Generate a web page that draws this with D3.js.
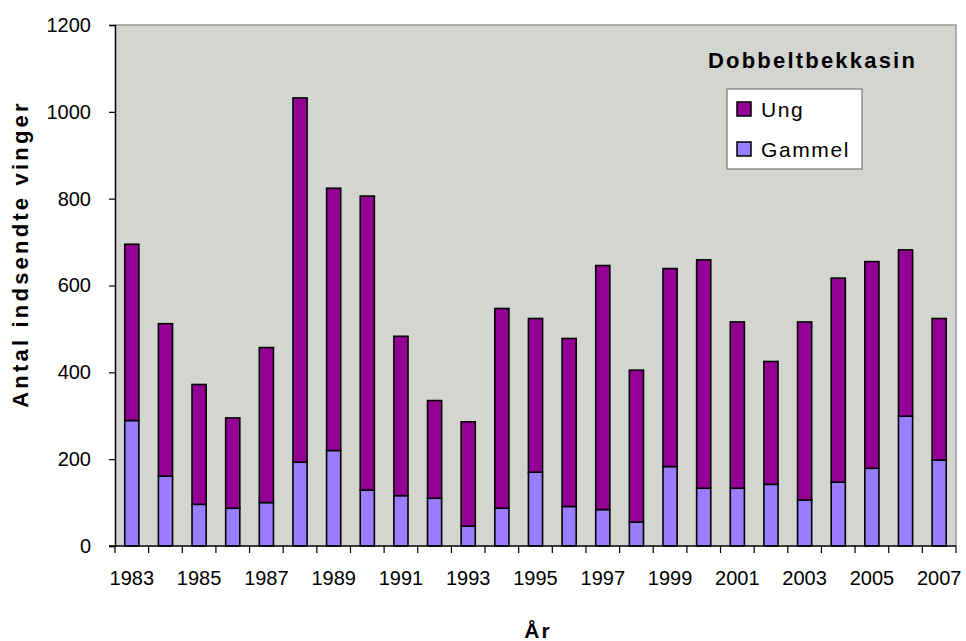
<!DOCTYPE html>
<html>
<head>
<meta charset="utf-8">
<script src="https://cdn.jsdelivr.net/npm/d3@7"></script>
<style>
  html, body { margin: 0; padding: 0; background: #fff; }
  svg { display: block; font-family: "Liberation Sans", Arial, sans-serif; }
</style>
</head>
<body>
<div id="chart"></div>
<script>
const years = d3.range(1983, 2008).map(String);
const gammel = [289, 161, 96, 87, 100, 193, 220, 129, 116, 110, 46, 87, 170, 91, 84, 55, 183, 133, 133, 142, 106, 147, 179, 299, 198];
const ung = [406, 351, 276, 208, 357, 839, 604, 677, 367, 225, 240, 460, 354, 387, 562, 350, 456, 526, 383, 283, 410, 470, 476, 383, 326];
const yTicks = [0, 200, 400, 600, 800, 1000, 1200];
const seriesNames = ["Gammel", "Ung"];

const W = 966, H = 641;
const margin = { top: 25, right: 10, bottom: 95, left: 115 };

const colors = { Ung: "#940094", Gammel: "#9B7EFF" };

const rows = years.map((y, i) => ({ year: y, Gammel: gammel[i], Ung: ung[i] }));
const stacked = d3.stack().keys(seriesNames)(rows);

const svg = d3.select("#chart").append("svg")
  .attr("width", W)
  .attr("height", H);

const x = d3.scaleBand()
  .domain(years)
  .range([margin.left, W - margin.right])
  .paddingInner(0.58)
  .paddingOuter(0.29);

const y = d3.scaleLinear()
  .domain([0, 1200])
  .range([H - margin.bottom, margin.top]);

// plot area background
svg.append("rect")
  .attr("x", margin.left)
  .attr("y", margin.top)
  .attr("width", W - margin.right - margin.left)
  .attr("height", H - margin.bottom - margin.top)
  .attr("fill", "#D3D5D0");

// top and right frame
svg.append("path")
  .attr("d", `M${margin.left},${margin.top}H${W - margin.right}V${H - margin.bottom}`)
  .attr("fill", "none")
  .attr("stroke", "#9a9a96")
  .attr("stroke-width", 1.5);

// bars
svg.append("g")
  .selectAll("g")
  .data(stacked)
  .enter()
  .append("g")
  .attr("fill", d => colors[d.key])
  .selectAll("rect")
  .data(d => d)
  .enter()
  .append("rect")
  .attr("x", d => x(d.data.year))
  .attr("y", d => y(d[1]))
  .attr("width", x.bandwidth())
  .attr("height", d => y(d[0]) - y(d[1]))
  .attr("stroke", "#000")
  .attr("stroke-width", 1.6);

// y axis
const yAxis = svg.append("g")
  .attr("transform", `translate(${margin.left},0)`)
  .call(d3.axisLeft(y).tickValues(yTicks).tickFormat(d3.format("d")).tickSize(6).tickPadding(18));
yAxis.select(".domain").attr("stroke", "#000").attr("stroke-width", 1.5);
yAxis.selectAll(".tick line").attr("stroke", "#000").attr("stroke-width", 1.2);
yAxis.selectAll(".tick text")
  .attr("font-size", "20px")
  .attr("fill", "#000")
  .attr("font-family", "Liberation Sans, Arial, sans-serif");

// x axis: ticks at category boundaries
const xAxisG = svg.append("g")
  .attr("transform", `translate(0,${H - margin.bottom})`);
xAxisG.append("line")
  .attr("x1", margin.left - 6)
  .attr("x2", W - margin.right)
  .attr("stroke", "#000")
  .attr("stroke-width", 1.5);
const step = x.step();
const bounds = d3.range(years.length + 1).map(i => x.range()[0] + i * step);
xAxisG.selectAll(".bt")
  .data(bounds)
  .enter()
  .append("line")
  .attr("x1", d => d).attr("x2", d => d)
  .attr("y1", 0).attr("y2", 7)
  .attr("stroke", "#000")
  .attr("stroke-width", 1.2);
xAxisG.selectAll(".yl")
  .data(years.filter((d, i) => i % 2 === 0))
  .enter()
  .append("text")
  .attr("x", d => x(d) + x.bandwidth() / 2)
  .attr("y", 39)
  .attr("text-anchor", "middle")
  .attr("font-size", "20px")
  .attr("fill", "#000")
  .text(d => d);

// axis titles
svg.append("text")
  .attr("transform", "translate(28,254) rotate(-90)")
  .attr("text-anchor", "middle")
  .attr("font-size", "22px")
  .attr("font-weight", "bold")
  .attr("letter-spacing", "3.2px")
  .text("Antal indsendte vinger");

svg.append("text")
  .attr("x", 538)
  .attr("y", 638)
  .attr("text-anchor", "middle")
  .attr("font-size", "21px")
  .attr("font-weight", "bold")
  .attr("letter-spacing", "2px")
  .text("År");

// legend
svg.append("text")
  .attr("x", 708)
  .attr("y", 68)
  .attr("font-size", "22px")
  .attr("font-weight", "bold")
  .attr("letter-spacing", "2.2px")
  .text("Dobbeltbekkasin");

const legend = svg.append("g").attr("transform", "translate(727,89)");
legend.append("rect")
  .attr("width", 135)
  .attr("height", 80)
  .attr("fill", "#fff")
  .attr("stroke", "#777")
  .attr("stroke-width", 1.2);

const legendItems = ["Ung", "Gammel"];
const li = legend.selectAll(".li")
  .data(legendItems)
  .enter()
  .append("g")
  .attr("transform", (d, i) => `translate(10,${20 + i * 40})`);
li.append("rect")
  .attr("x", 0)
  .attr("y", -7)
  .attr("width", 14)
  .attr("height", 14)
  .attr("fill", d => colors[d])
  .attr("stroke", "#000")
  .attr("stroke-width", 1.5);
li.append("text")
  .attr("x", 24)
  .attr("y", 8)
  .attr("font-size", "21px")
  .attr("letter-spacing", "1.6px")
  .text(d => d);
</script>
</body>
</html>
